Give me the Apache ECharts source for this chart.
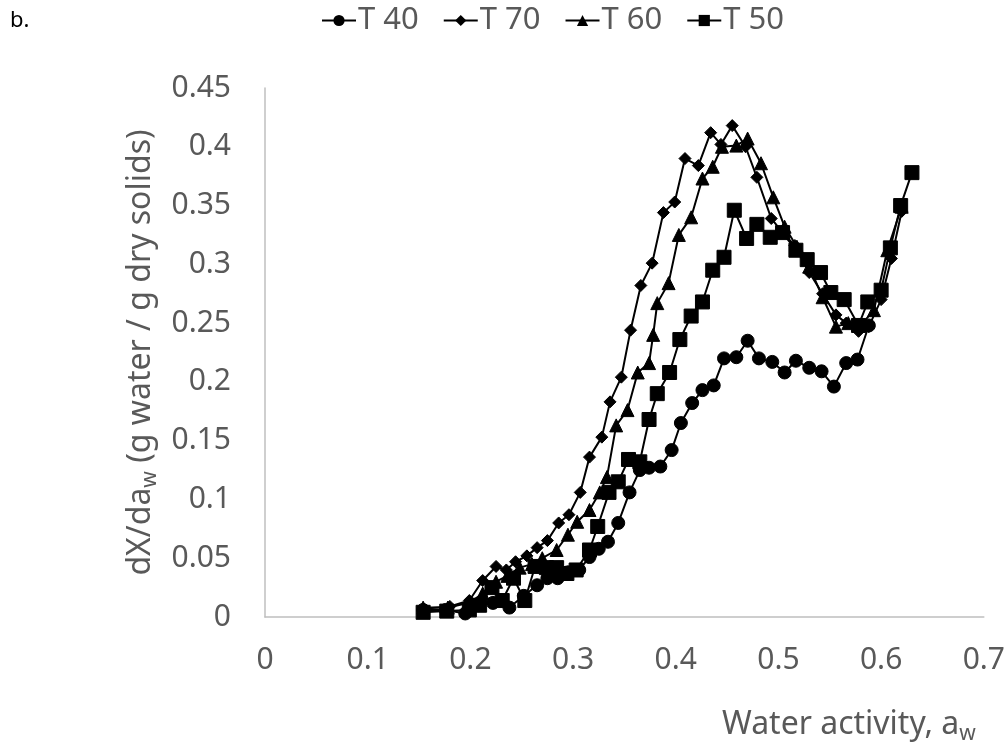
<!DOCTYPE html>
<html>
<head>
<meta charset="utf-8">
<script src="https://cdn.jsdelivr.net/npm/echarts@6/dist/echarts.min.js"></script>
<style>
html,body{margin:0;padding:0;background:#fff;}
#c{width:1008px;height:750px;}
</style>
</head>
<body>
<div id="c"></div>
<script>
// ---- data ----
const seriesNames = ['T 40', 'T 70', 'T 60', 'T 50'];

const xT40 = [0.154,0.176,0.195,0.208,0.222,0.238,0.252,0.265,0.275,0.285,0.295,0.306,0.316,0.325,0.334,0.344,0.355,0.365,0.374,0.385,0.396,0.405,0.416,0.426,0.437,0.447,0.459,0.470,0.481,0.494,0.506,0.517,0.530,0.542,0.554,0.566,0.577,0.588];
const yT40 = [0.006,0.006,0.003,0.010,0.012,0.008,0.018,0.027,0.033,0.033,0.038,0.040,0.051,0.058,0.064,0.080,0.106,0.125,0.127,0.128,0.142,0.165,0.182,0.193,0.197,0.220,0.221,0.235,0.220,0.217,0.208,0.218,0.212,0.209,0.196,0.216,0.219,0.248];

const xT70 = [0.154,0.180,0.199,0.212,0.225,0.235,0.244,0.255,0.265,0.275,0.286,0.296,0.307,0.316,0.328,0.336,0.347,0.356,0.366,0.377,0.388,0.399,0.409,0.422,0.434,0.444,0.455,0.468,0.479,0.493,0.504,0.516,0.530,0.543,0.556,0.566,0.578,0.588,0.600,0.610,0.620];
const yT70 = [0.007,0.009,0.014,0.031,0.043,0.040,0.047,0.052,0.059,0.065,0.080,0.087,0.106,0.136,0.153,0.183,0.204,0.244,0.282,0.301,0.344,0.353,0.390,0.384,0.412,0.402,0.418,0.400,0.374,0.339,0.327,0.316,0.293,0.275,0.257,0.250,0.243,0.247,0.270,0.305,0.345];

const xT60 = [0.154,0.178,0.199,0.212,0.225,0.236,0.248,0.260,0.270,0.284,0.295,0.304,0.316,0.326,0.333,0.342,0.353,0.363,0.374,0.378,0.382,0.393,0.403,0.415,0.426,0.436,0.445,0.459,0.470,0.483,0.495,0.506,0.518,0.530,0.543,0.556,0.568,0.580,0.593,0.606,0.620];
const yT60 = [0.008,0.008,0.012,0.020,0.030,0.035,0.042,0.045,0.050,0.057,0.070,0.081,0.091,0.106,0.119,0.163,0.176,0.208,0.216,0.240,0.267,0.284,0.325,0.340,0.373,0.383,0.400,0.401,0.407,0.386,0.357,0.332,0.315,0.298,0.272,0.247,0.250,0.248,0.261,0.312,0.349];

const xT50 = [0.154,0.177,0.199,0.209,0.221,0.231,0.242,0.253,0.263,0.274,0.284,0.294,0.303,0.316,0.324,0.335,0.344,0.354,0.365,0.374,0.382,0.394,0.404,0.415,0.426,0.436,0.447,0.457,0.469,0.479,0.492,0.504,0.517,0.528,0.541,0.551,0.564,0.578,0.587,0.600,0.609,0.619,0.630];
const yT50 = [0.004,0.005,0.006,0.010,0.025,0.014,0.033,0.014,0.043,0.042,0.042,0.037,0.040,0.057,0.077,0.106,0.115,0.134,0.132,0.168,0.190,0.208,0.236,0.256,0.268,0.295,0.306,0.346,0.322,0.334,0.323,0.327,0.312,0.304,0.293,0.276,0.270,0.248,0.268,0.278,0.314,0.350,0.378];

const xTicks = { min: 0, max: 0.7, interval: 0.1 };
const yTicks = { min: 0, max: 0.45, interval: 0.05 };

// ---- chart ----
const FONT = '"Noto Sans", "Open Sans", sans-serif';
const GREY = '#595959';
const pair = (xs, ys) => xs.map((v, i) => [v, ys[i]]);
const symbols = {
  'T 40': { symbol: 'circle', size: 13 },
  'T 70': { symbol: 'path://M0,-1L1,0L0,1L-1,0Z', size: 12 },
  'T 60': { symbol: 'triangle', size: 13 },
  'T 50': { symbol: 'rect', size: 14 }
};
const dataMap = {
  'T 40': pair(xT40, yT40),
  'T 70': pair(xT70, yT70),
  'T 60': pair(xT60, yT60),
  'T 50': pair(xT50, yT50)
};

const chart = echarts.init(document.getElementById('c'), null, { renderer: 'canvas' });
chart.setOption({
  animation: false,
  backgroundColor: '#fff',
  textStyle: { fontFamily: FONT },
  graphic: [{
    type: 'text', left: 10, top: 10,
    style: { text: 'b.', fontSize: 22, fontFamily: FONT, fill: '#000' }
  }],
  legend: {
    data: seriesNames,
    left: 316, top: 0,
    itemWidth: 34, itemHeight: 14, itemGap: 24,
    textStyle: { fontSize: 31, color: GREY, fontFamily: FONT, padding: [0, 0, 0, -3] }
  },
  grid: { left: 265, right: 23, top: 88, bottom: 133, containLabel: false },
  xAxis: {
    type: 'value', min: xTicks.min, max: xTicks.max, interval: xTicks.interval,
    axisLine: { show: true, lineStyle: { color: '#bfbfbf', width: 1.5 } },
    axisTick: { show: false },
    splitLine: { show: false },
    axisLabel: { fontSize: 30, color: GREY, fontFamily: FONT, margin: 28 },
    name: '{n|Water activity, a}{s|w}',
    nameLocation: 'end', nameGap: -8,
    nameTextStyle: {
      align: 'right', verticalAlign: 'top', padding: [88, 0, 0, 0],
      rich: {
        n: { fontSize: 32, color: GREY, fontFamily: FONT, lineHeight: 40 },
        s: { fontSize: 21, color: GREY, fontFamily: FONT, lineHeight: 40, verticalAlign: 'bottom' }
      }
    }
  },
  yAxis: {
    type: 'value', min: yTicks.min, max: yTicks.max, interval: yTicks.interval,
    axisLine: { show: true, lineStyle: { color: '#bfbfbf', width: 1.5 } },
    axisTick: { show: false },
    splitLine: { show: false },
    axisLabel: { fontSize: 30, color: GREY, fontFamily: FONT, margin: 34 },
    name: '{n|dX/da}{s|w}{n| (g water / g dry solids)}',
    nameLocation: 'middle', nameGap: 98,
    nameTextStyle: {
      rich: {
        n: { fontSize: 32, color: GREY, fontFamily: FONT, lineHeight: 40 },
        s: { fontSize: 21, color: GREY, fontFamily: FONT, lineHeight: 40, verticalAlign: 'bottom' }
      }
    }
  },
  series: seriesNames.map(name => ({
    name: name,
    type: 'line',
    data: dataMap[name],
    symbol: symbols[name].symbol,
    symbolSize: symbols[name].size,
    showAllSymbol: true,
    lineStyle: { color: '#000', width: 2 },
    itemStyle: { color: '#000', borderColor: '#000' },
    emphasis: { disabled: true }
  }))
});
</script>
</body>
</html>
